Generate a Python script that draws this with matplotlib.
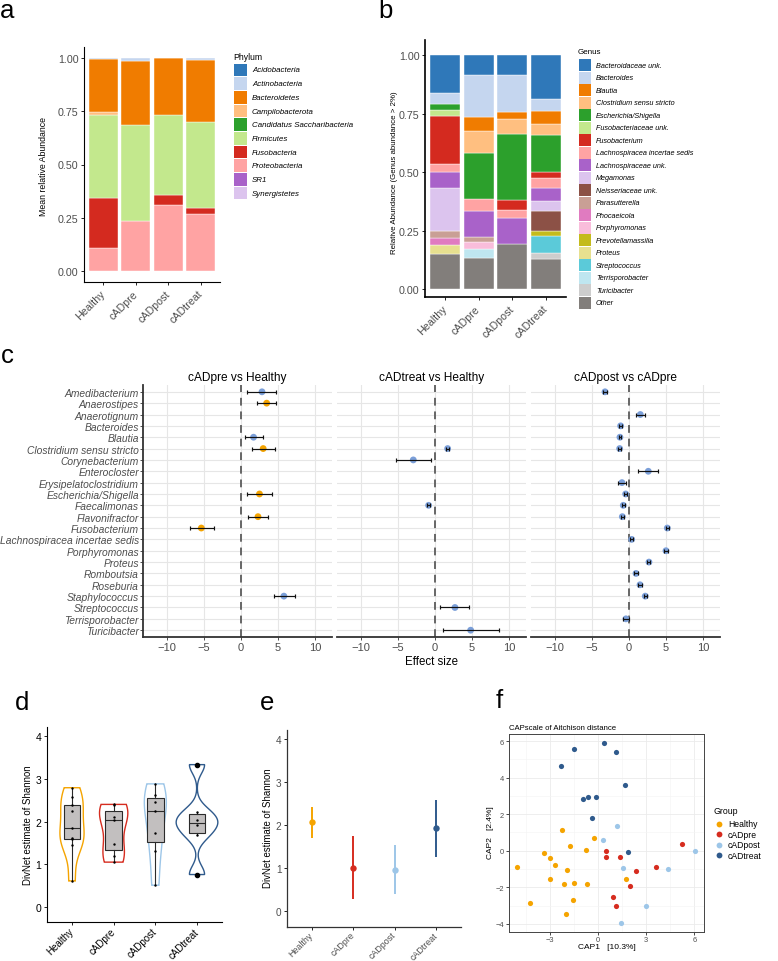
import numpy as np
import matplotlib
matplotlib.use("Agg")
import matplotlib.pyplot as plt
from matplotlib.patches import Rectangle
from matplotlib.lines import Line2D

plt.rcParams['font.family'] = ['Liberation Sans', 'DejaVu Sans']

# ---------------- data ----------------
groups = ["Healthy", "cADpre", "cADpost", "cADtreat"]
group_colors = ["#f5a400", "#d62c1f", "#9dc6e8", "#2f5a8c"]

# panel a : phylum mean relative abundance
phyla = ["Acidobacteria", "Actinobacteria", "Bacteroidetes", "Campilobacterota",
         "Candidatus Saccharibacteria", "Firmicutes", "Fusobacteria", "Proteobacteria",
         "SR1", "Synergistetes"]
phylum_colors = ["#2f78b9", "#c5d6ef", "#f07c00", "#ffbf80", "#2ca02c", "#c3e88d",
                 "#d42a1f", "#ffa3a3", "#a962c9", "#dcc4ee"]
phylum_healthy = [0.000, 0.005, 0.250, 0.015, 0.000, 0.385, 0.235, 0.110, 0.000, 0.000]
phylum_cadpre = [0.000, 0.015, 0.300, 0.000, 0.000, 0.450, 0.000, 0.235, 0.000, 0.000]
phylum_cadpost = [0.000, 0.002, 0.268, 0.000, 0.000, 0.375, 0.045, 0.310, 0.000, 0.000]
phylum_cadtreat = [0.000, 0.010, 0.290, 0.000, 0.000, 0.405, 0.025, 0.270, 0.000, 0.000]

# panel b : genus relative abundance
genera = ["Bacteroidaceae unk.", "Bacteroides", "Blautia", "Clostridium sensu stricto",
          "Escherichia/Shigella", "Fusobacteriaceae unk.", "Fusobacterium",
          "Lachnospiracea incertae sedis", "Lachnospiraceae unk.", "Megamonas",
          "Neisseriaceae unk.", "Parasutterella", "Phocaeicola", "Porphyromonas",
          "Prevotellamassilia", "Proteus", "Streptococcus", "Terrisporobacter",
          "Turicibacter", "Other"]
genus_colors = ["#2f78b9", "#c5d6ef", "#f07c00", "#ffbf80", "#2ca02c", "#c3e88d",
                "#d42a1f", "#ffa3a3", "#a962c9", "#dcc4ee", "#8c5146", "#c99f95",
                "#e07bc0", "#f9bddb", "#c4bb1c", "#e7e08f", "#5bcad9", "#bfe6f0",
                "#cdcdcd", "#827e7b"]
genus_healthy = [0.160, 0.047, 0, 0, 0.028, 0.023, 0.208, 0.033, 0.069, 0.184,
                 0, 0.030, 0.030, 0, 0, 0.038, 0, 0, 0, 0.150]
genus_cadpre = [0.084, 0.181, 0.057, 0.095, 0.196, 0, 0, 0.051, 0.112, 0,
                0, 0.024, 0, 0.029, 0, 0, 0, 0.036, 0, 0.135]
genus_cadpost = [0.085, 0.157, 0.032, 0.064, 0.282, 0, 0.042, 0.032, 0.114, 0,
                 0, 0, 0, 0, 0, 0, 0, 0, 0, 0.192]
genus_cadtreat = [0.185, 0.054, 0.053, 0.048, 0.159, 0, 0.024, 0.044, 0.056, 0.044,
                  0.085, 0, 0, 0, 0.020, 0, 0.074, 0, 0.024, 0.130]

# panel c : effect sizes
c_genera = ["Amedibacterium", "Anaerostipes", "Anaerotignum", "Bacteroides", "Blautia",
            "Clostridium sensu stricto", "Corynebacterium", "Enterocloster",
            "Erysipelatoclostridium", "Escherichia/Shigella", "Faecalimonas",
            "Flavonifractor", "Fusobacterium", "Lachnospiracea incertae sedis",
            "Porphyromonas", "Proteus", "Romboutsia", "Roseburia", "Staphylococcus",
            "Streptococcus", "Terrisporobacter", "Turicibacter"]
facet_titles = ["cADpre vs Healthy", "cADtreat vs Healthy", "cADpost vs cADpre"]
sig_colors = {"A": "#7b9fd9", "B": "#f5a400"}

f1_genus = ["Amedibacterium", "Anaerostipes", "Blautia", "Clostridium sensu stricto",
            "Escherichia/Shigella", "Flavonifractor", "Fusobacterium", "Staphylococcus"]
f1_est = [2.84, 3.47, 1.70, 3.00, 2.50, 2.30, -5.36, 5.80]
f1_lo = [0.86, 2.10, 0.50, 1.50, 0.77, 1.00, -6.90, 4.46]
f1_hi = [4.80, 4.80, 3.00, 4.60, 4.20, 3.70, -3.70, 7.25]
f1_cls = ["A", "B", "A", "B", "B", "B", "B", "A"]

f2_genus = ["Clostridium sensu stricto", "Corynebacterium", "Faecalimonas",
            "Streptococcus", "Turicibacter"]
f2_est = [1.71, -2.93, -0.86, 2.70, 4.82]
f2_lo = [1.49, -5.27, -1.08, 0.68, 1.13]
f2_hi = [1.93, -0.59, -0.64, 4.64, 8.60]
f2_cls = ["A", "A", "A", "A", "A"]

f3_genus = ["Amedibacterium", "Anaerotignum", "Bacteroides", "Blautia",
            "Clostridium sensu stricto", "Enterocloster", "Erysipelatoclostridium",
            "Escherichia/Shigella", "Faecalimonas", "Flavonifractor", "Fusobacterium",
            "Lachnospiracea incertae sedis", "Porphyromonas", "Proteus", "Romboutsia",
            "Roseburia", "Staphylococcus", "Terrisporobacter"]
f3_est = [-3.24, 1.53, -1.13, -1.22, -1.26, 2.61, -0.95, -0.45, -0.77, -0.90, 5.18,
          0.36, 5.00, 2.70, 0.95, 1.49, 2.20, -0.41]
f3_lo = [-3.46, 0.90, -1.31, -1.40, -1.44, 1.26, -1.44, -0.63, -0.95, -1.08, 4.96,
         0.18, 4.72, 2.50, 0.73, 1.27, 1.98, -0.80]
f3_hi = [-3.02, 2.20, -0.95, -1.04, -1.08, 3.96, -0.36, -0.27, -0.59, -0.72, 5.40,
         0.54, 5.28, 2.90, 1.17, 1.71, 2.42, -0.05]
f3_cls = ["A"] * 18

# panel d : DivNet Shannon per sample
shannon_healthy = [0.61, 1.44, 1.58, 1.62, 1.85, 2.24, 2.39, 2.57, 2.79]
shannon_cadpre = [1.05, 1.19, 1.47, 2.03, 2.10, 2.39, 2.40]
shannon_cadpost = [0.51, 1.31, 1.74, 2.25, 2.45, 2.63, 2.88]
shannon_cadtreat = [0.76, 1.68, 1.91, 2.03, 2.22, 3.33]

# panel e : group-level Shannon estimate with interval
e_est = [2.06, 1.01, 0.95, 1.93]
e_lo = [1.70, 0.27, 0.39, 1.26]
e_hi = [2.41, 1.74, 1.53, 2.58]

# panel f : CAP ordination
f_healthy_x = [-2.22, -0.25, -1.74, -0.75, -3.36, -2.97, -2.68, -1.95, -3.01, -2.12,
               -1.53, -0.66, 1.75, -4.26, -1.56, -2.01, -5.08]
f_healthy_y = [1.12, 0.68, 0.24, 0.05, -0.14, -0.38, -0.80, -1.04, -1.57, -1.82,
               -1.75, -1.83, -1.53, -2.86, -2.70, -3.48, -0.91]
f_cadpre_x = [0.52, 0.52, 1.37, 5.26, 3.58, 2.39, 2.02, 0.96, 1.10]
f_cadpre_y = [-0.02, -0.34, -0.34, 0.38, -0.91, -1.13, -1.91, -2.53, -3.01]
f_cadpost_x = [1.18, 0.31, 6.07, 1.56, 4.38, 2.97, 1.43]
f_cadpost_y = [1.35, 0.59, -0.02, -0.93, -1.02, -3.01, -3.96]
f_cadtreat_x = [0.37, -1.53, 1.12, -2.30, 1.68, -0.91, -0.64, -0.16, -0.37, 1.89]
f_cadtreat_y = [5.88, 5.55, 5.40, 4.62, 3.61, 2.81, 2.92, 2.92, 1.81, -0.09]

# ---------------- figure helpers ----------------
W, H = 778, 962
fig = plt.figure(figsize=(W / 100, H / 100), dpi=100)
GREY30 = "#4d4d4d"


def add_ax(l, t, r, b):
    return fig.add_axes([l / W, 1 - b / H, (r - l) / W, (b - t) / H])


def ftext(x, y, s, **kw):
    fig.text(x / W, 1 - y / H, s, **kw)


def frect(l, t, r, b, color):
    fig.patches.append(Rectangle((l / W, 1 - b / H), (r - l) / W, (b - t) / H,
                                 transform=fig.transFigure, facecolor=color,
                                 edgecolor="none", figure=fig))


def classic(ax, lw=0.8, labcol=GREY30, size=7.5):
    for s in ["top", "right"]:
        ax.spines[s].set_visible(False)
    for s in ["left", "bottom"]:
        ax.spines[s].set_linewidth(lw)
        ax.spines[s].set_color("black")
    ax.tick_params(length=2.5, width=0.6, labelsize=size, labelcolor=labcol, pad=1.5)


def rot_labels(ax, size, color, pad=3.0):
    ax.set_xticks(range(len(groups)))
    ax.set_xticklabels(groups, rotation=45, ha="right", va="center",
                       rotation_mode="anchor", fontsize=size, color=color)
    ax.tick_params(axis="x", pad=pad)


def stacked(ax, comps, colors):
    for gi, vals in enumerate(comps):
        bottom = 0.0
        for val, col in zip(vals[::-1], colors[::-1]):
            if val > 0:
                ax.bar(gi, val, bottom=bottom, width=0.9, color=col,
                       edgecolor="white", linewidth=0.3)
            bottom += val


# ---------------- panel a ----------------
axa = add_ax(84, 48, 220, 283)
stacked(axa, [phylum_healthy, phylum_cadpre, phylum_cadpost, phylum_cadtreat], phylum_colors)
axa.set_xlim(-0.6, 3.6)
axa.set_ylim(-0.05, 1.05)
axa.set_yticks([0, 0.25, 0.5, 0.75, 1.0])
axa.set_yticklabels(["0.00", "0.25", "0.50", "0.75", "1.00"])
classic(axa, size=7.7)
rot_labels(axa, 7.7, GREY30, pad=4.5)
ftext(43, 166, "Mean relative Abundance", rotation=90, ha="center", va="center", fontsize=6.3)
ftext(233, 57, "Phylum", ha="left", va="center", fontsize=6.2)
for i, (name, col) in enumerate(zip(phyla, phylum_colors)):
    yc = 71 + 13.67 * i
    frect(234, yc - 6.3, 247, yc + 6.3, col)
    ftext(252, yc, name, ha="left", va="center", fontsize=5.7, style="italic")

# ---------------- panel b ----------------
axb = add_ax(425, 41, 566, 298)
stacked(axb, [genus_healthy, genus_cadpre, genus_cadpost, genus_cadtreat], genus_colors)
axb.set_xlim(-0.6, 3.6)
axb.set_ylim(-0.033, 1.065)
axb.set_yticks([0, 0.25, 0.5, 0.75, 1.0])
axb.set_yticklabels(["0.00", "0.25", "0.50", "0.75", "1.00"])
classic(axb, lw=1.2, size=7.7)
rot_labels(axb, 7.7, GREY30, pad=4.5)
ftext(395, 173, "Relative Abundance (Genus abundance > 2%)", rotation=90,
      ha="center", va="center", fontsize=5.7)
ftext(578, 52, "Genus", ha="left", va="center", fontsize=5.8)
for i, (name, col) in enumerate(zip(genera, genus_colors)):
    yc = 66.3 + 12.49 * i
    frect(579, yc - 5.9, 591, yc + 5.9, col)
    ftext(596, yc, name, ha="left", va="center", fontsize=5.2, style="italic")

# ---------------- panel c ----------------
facet_px = [(143, 332), (337, 526), (531, 720)]
facet_data = [(f1_genus, f1_est, f1_lo, f1_hi, f1_cls),
              (f2_genus, f2_est, f2_lo, f2_hi, f2_cls),
              (f3_genus, f3_est, f3_lo, f3_hi, f3_cls)]
ny = len(c_genera)
for k, ((l, r), (gs, est, lo, hi, cls)) in enumerate(zip(facet_px, facet_data)):
    ax = add_ax(l, 386, r, 638)
    ax.set_xlim(-13.24, 12.3)
    ax.set_ylim(ny + 0.6, 0.4)
    for s in ["top", "right", "left"]:
        ax.spines[s].set_visible(False)
    ax.spines["bottom"].set_linewidth(1.3)
    ax.spines["bottom"].set_color("#333333")
    ax.set_xticks([-10, -5, 0, 5, 10])
    ax.set_xticklabels(["\u221210", "\u22125", "0", "5", "10"])
    ax.set_yticks(np.arange(1, ny + 1))
    ax.grid(True, color="#e6e6e6", lw=0.8)
    ax.set_axisbelow(True)
    ax.tick_params(axis="x", length=2, width=0.6, color="#333333", labelsize=8,
                   labelcolor=GREY30, pad=1.5)
    if k == 0:
        ax.spines["left"].set_visible(True)
        ax.spines["left"].set_linewidth(1.3)
        ax.spines["left"].set_color("#333333")
        ax.set_yticklabels(c_genera, fontsize=7.4, style="italic", color=GREY30)
        ax.tick_params(axis="y", length=2, width=0.6, color="#333333", pad=1)
    else:
        ax.set_yticklabels([])
        ax.tick_params(axis="y", length=0)
    ax.axvline(0, color="#666666", lw=1.4, ls=(0, (4, 3)), zorder=2)
    ys = [c_genera.index(g) + 1 for g in gs]
    est = np.array(est)
    ax.scatter(est, ys, s=24, c=[sig_colors[c] for c in cls], zorder=3, linewidths=0)
    ax.errorbar(est, ys, xerr=[est - np.array(lo), np.array(hi) - est], fmt="none",
                ecolor="#111111", elinewidth=0.85, capsize=1.3, capthick=0.85, zorder=4)
    ftext((l + r) / 2, 378, facet_titles[k], ha="center", va="center", fontsize=8.6)
ftext(431.5, 662, "Effect size", ha="center", va="center", fontsize=8.3)

# ---------------- panel d ----------------
axd = add_ax(47, 728, 222, 923)
shannon = [shannon_healthy, shannon_cadpre, shannon_cadpost, shannon_cadtreat]


def nrd0(x):
    x = np.asarray(x)
    sd = np.std(x, ddof=1)
    q75, q25 = np.percentile(x, [75, 25])
    lo = min(sd, (q75 - q25) / 1.34)
    if lo == 0:
        lo = sd
    return 0.9 * lo * len(x) ** (-0.2)


dens_list = []
for vals in shannon:
    v = np.asarray(vals)
    bw = nrd0(v)
    grid = np.linspace(v.min(), v.max(), 512)
    d = np.exp(-0.5 * ((grid[:, None] - v[None, :]) / bw) ** 2).sum(1) / (len(v) * bw * np.sqrt(2 * np.pi))
    dens_list.append((grid, d))
gmax = max(d.max() for _, d in dens_list)
for i, ((grid, d), col) in enumerate(zip(dens_list, group_colors)):
    hw = d / gmax * 0.5
    xs = np.concatenate([i - hw, (i + hw)[::-1]])
    ys = np.concatenate([grid, grid[::-1]])
    axd.fill(xs, ys, facecolor="white", edgecolor=col, lw=1.0, zorder=1)
axd.boxplot(shannon, positions=range(4), widths=0.4, patch_artist=True, showcaps=False,
            boxprops=dict(facecolor="#c2bfbf", edgecolor="#2b2b2b", lw=0.8),
            medianprops=dict(color="#2b2b2b", lw=0.8),
            whiskerprops=dict(color="#2b2b2b", lw=0.8),
            flierprops=dict(marker="o", markersize=3, markerfacecolor="black",
                            markeredgecolor="black"), zorder=2)
for i, vals in enumerate(shannon):
    axd.scatter([i] * len(vals), vals, s=3, color="black", zorder=5, linewidths=0)
axd.set_xlim(-0.6, 3.6)
axd.set_ylim(-0.35, 4.21)
axd.set_yticks([0, 1, 2, 3, 4])
classic(axd, labcol="black", size=7.5)
rot_labels(axd, 7.0, "black", pad=3.0)
ftext(28, 825, "DivNet estimate of Shannon", rotation=90, ha="center", va="center", fontsize=6.9)

# ---------------- panel e ----------------
axe = add_ax(287, 731, 461, 928)
for i, col in enumerate(group_colors):
    axe.vlines(i, e_lo[i], e_hi[i], color=col, lw=1.4)
    axe.plot(i, e_est[i], "o", ms=4.6, color=col, mec="none")
axe.set_xlim(-0.6, 3.6)
axe.set_ylim(-0.37, 4.2)
axe.set_yticks([0, 1, 2, 3, 4])
classic(axe, lw=0.9, size=7.2)
axe.spines["left"].set_color("#333333")
axe.spines["bottom"].set_color("#333333")
rot_labels(axe, 6.4, GREY30, pad=2.0)
ftext(268, 828, "DivNet estimate of Shannon", rotation=90, ha="center", va="center", fontsize=6.9)

# ---------------- panel f ----------------
axf = add_ax(509, 735, 704, 932.5)
fx = [f_healthy_x, f_cadpre_x, f_cadpost_x, f_cadtreat_x]
fy = [f_healthy_y, f_cadpre_y, f_cadpost_y, f_cadtreat_y]
for xs, ys, col in zip(fx, fy, group_colors):
    axf.scatter(xs, ys, s=14, color=col, linewidths=0, zorder=3)
axf.set_xlim(-5.55, 6.6)
axf.set_ylim(-4.42, 6.39)
axf.set_xticks([-3, 0, 3, 6])
axf.set_xticklabels(["\u22123", "0", "3", "6"])
axf.set_yticks([-4, -2, 0, 2, 4, 6])
axf.set_yticklabels(["\u22124", "\u22122", "0", "2", "4", "6"])
axf.set_xticks([-4.5, -1.5, 1.5, 4.5], minor=True)
axf.set_yticks([-3, -1, 1, 3, 5], minor=True)
axf.grid(True, which="major", color="#ebebeb", lw=0.6)
axf.grid(True, which="minor", color="#f4f4f4", lw=0.4)
axf.set_axisbelow(True)
for s in axf.spines.values():
    s.set_color("#444444")
    s.set_linewidth(0.7)
axf.tick_params(which="major", length=2, width=0.5, labelsize=5.4, labelcolor=GREY30, pad=1.5)
axf.tick_params(which="minor", length=0)
ftext(509, 728, "CAPscale of Aitchison distance", ha="left", va="center", fontsize=5.6)
ftext(607, 948, "CAP1   [10.3%]", ha="center", va="center", fontsize=6)
ftext(491, 833, "CAP2   [2.4%]", rotation=90, ha="center", va="center", fontsize=6)
ftext(714, 812, "Group", ha="left", va="center", fontsize=6.3)
for i, (g, col) in enumerate(zip(groups, group_colors)):
    yc = 825 + 10.4 * i
    fig.lines.append(Line2D([719 / W], [1 - yc / H], marker="o", ms=4.2, color=col,
                            mec="none", transform=fig.transFigure, figure=fig))
    ftext(728, yc, g, ha="left", va="center", fontsize=6.2)

# ---------------- panel letters ----------------
for lab, x, y in [("a", 7.5, 18), ("b", 386, 18), ("c", 7.5, 363), ("d", 22.5, 710),
                  ("e", 267, 710), ("f", 499, 708)]:
    ftext(x, y, lab, ha="center", va="baseline", fontsize=18.5)

fig.savefig("out.png", dpi=100)
